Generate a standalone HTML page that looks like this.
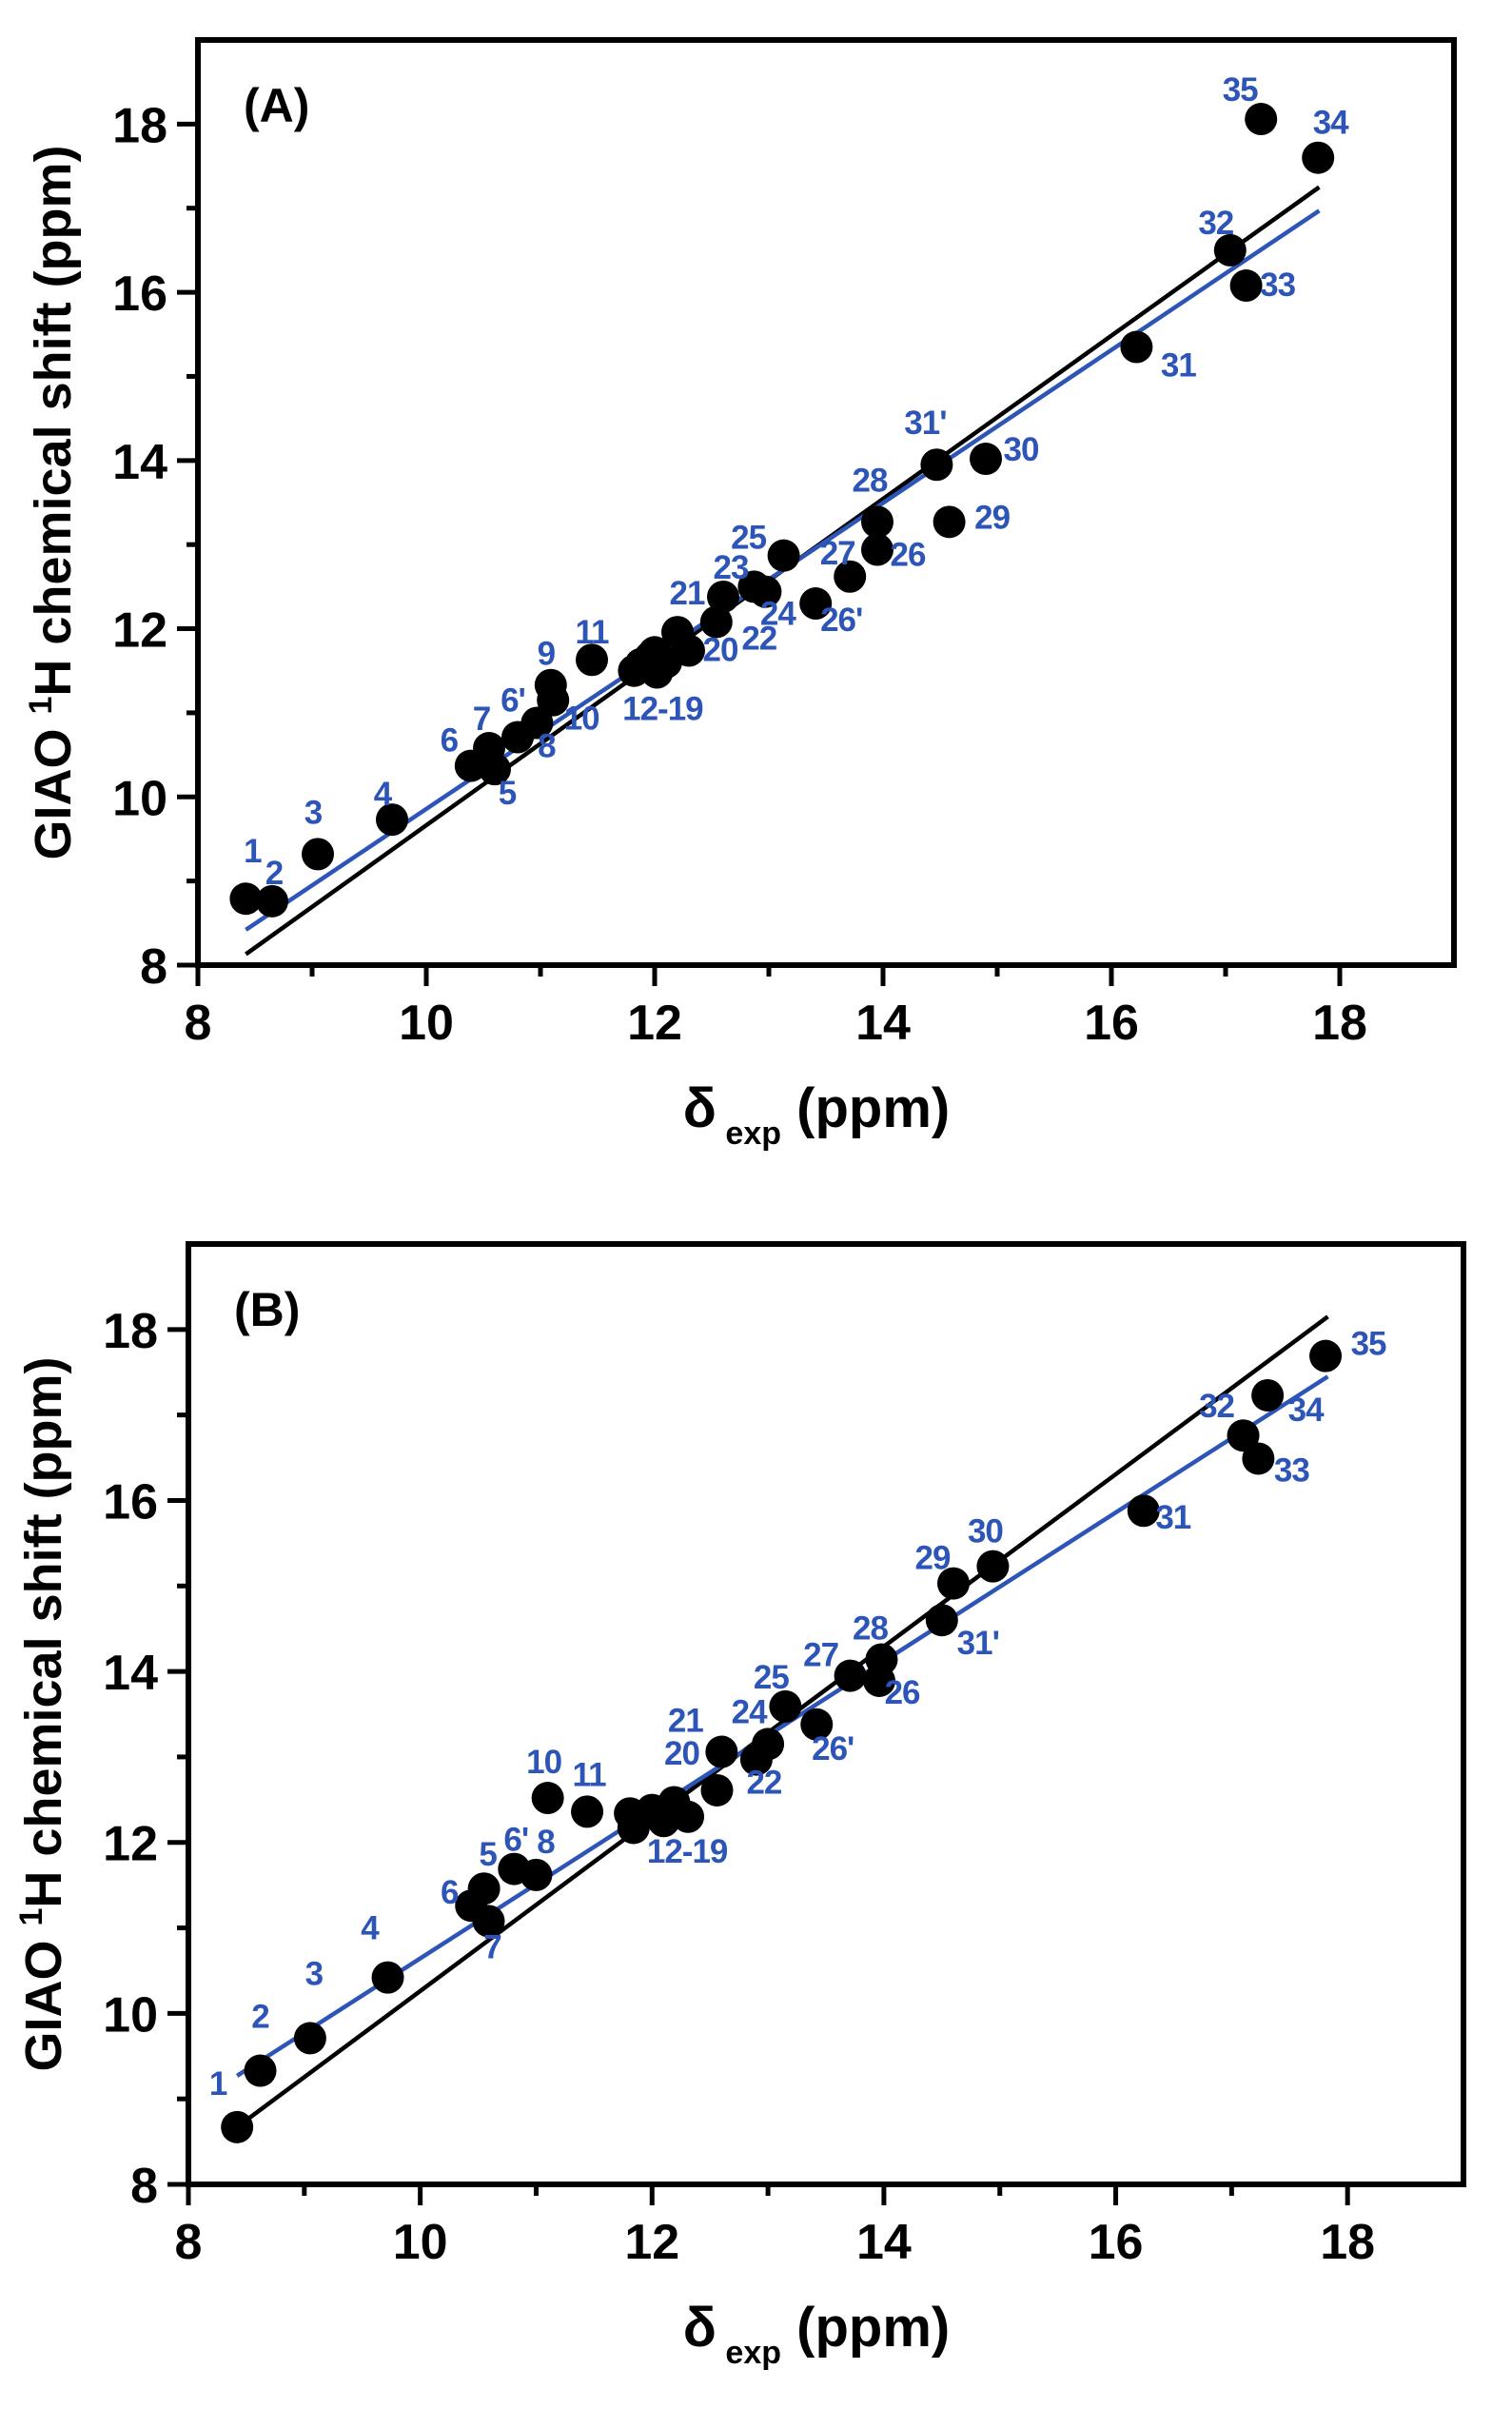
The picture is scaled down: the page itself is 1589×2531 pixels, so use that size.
<!DOCTYPE html>
<html><head><meta charset="utf-8">
<style>
html,body{margin:0;padding:0;background:#fff;}
svg{display:block;}
text{font-family:"Liberation Sans",Arial,sans-serif;font-weight:bold;}
</style></head>
<body>
<svg id="fig" width="1589" height="2531" viewBox="0 0 1589 2531" xmlns="http://www.w3.org/2000/svg"></svg>
<script>
// ---------- Panel A data ----------
const labelsA = ["1","2","3","4","5","6","7","6'","8","9","10","11","12-19","","","","","","","","20","21","22","23","24","","25","26'","27","28","26","29","30","31'","31","32","33","34","35"];
const xA = [8.42,8.65,9.05,9.70,10.60,10.39,10.55,10.80,10.97,11.09,11.11,11.45,11.82,11.88,11.96,12.02,12.10,11.90,12.00,12.06,12.30,12.20,12.54,12.60,12.97,12.87,13.13,13.41,13.71,13.95,13.95,14.58,14.90,14.47,16.22,17.04,17.18,17.81,17.31];
const yA = [8.79,8.76,9.32,9.73,10.33,10.37,10.58,10.71,10.88,11.33,11.15,11.63,11.50,11.58,11.66,11.48,11.60,11.55,11.72,11.62,11.74,11.96,12.08,12.38,12.44,12.50,12.87,12.30,12.62,13.27,12.94,13.27,14.02,13.95,15.35,16.50,16.08,17.60,18.06];
const ldxA = [7,2,-5,-10,13,-23,-8,-5,10,-5,30,0,30,0,0,0,0,0,0,0,33,10,45,8,13,0,-37,27,-13,-8,32,45,37,-12,44,-15,33,13,-22];
const ldyA = [-51,-31,-45,-28,24,-28,-32,-40,23,-34,18,-30,39,0,0,0,0,0,0,0,-2,-42,16,-32,22,0,-20,16,-26,-45,4,-6,-11,-45,18,-30,-2,-38,-32];
const blackLineA = [[8.42,8.13],[17.82,17.25]];
const blueLineA = [[8.42,8.42],[17.82,16.97]];

// ---------- Panel B data ----------
const labelsB = ["1","2","3","4","6","5","7","6'","8","10","11","12-19","","","","","","20","21","22","24","25","26'","27","28","26","31'","29","30","31","32","33","34","35"];
const xB = [8.42,8.62,9.05,9.72,10.44,10.55,10.59,10.81,11.00,11.10,11.44,11.81,11.84,12.00,12.10,12.19,12.31,12.56,12.60,12.90,13.00,13.15,13.42,13.71,13.98,13.96,14.50,14.60,14.94,16.24,17.10,17.23,17.31,17.81];
const yB = [8.67,9.33,9.71,10.42,11.26,11.46,11.08,11.69,11.62,12.52,12.36,12.34,12.17,12.38,12.25,12.47,12.30,12.61,13.06,12.97,13.15,13.59,13.38,13.95,14.14,13.89,14.60,15.03,15.23,15.88,16.76,16.49,17.23,17.69];
const ldxB = [-20,0,4,-19,-23,4,4,2,10,-4,2,60,0,0,0,0,0,-37,-38,8,-20,-15,17,-31,-12,24,38,-22,-8,31,-28,35,40,45];
const ldyB = [-47,-58,-69,-53,-15,-37,26,-32,-36,-39,-40,39,0,0,0,0,0,-40,-34,23,-35,-32,24,-23,-34,11,23,-28,-38,6,-32,11,14,-14];
const blackLineB = [[8.42,8.67],[17.83,18.15]];
const blueLineB = [[8.42,9.27],[17.83,17.45]];

const ticks = [8,10,12,14,16,18];
const minorTicks = [9,11,13,15,17];

const NS = "http://www.w3.org/2000/svg";
const svg = document.getElementById("fig");
function mk(tag, attrs, parent){
  const e = document.createElementNS(NS, tag);
  for (const k in attrs) e.setAttribute(k, attrs[k]);
  (parent||svg).appendChild(e);
  return e;
}
const BLUE = "#2d55b8";

function panel(id, box, labels, xs, ys, ldx, ldy, bl, bu, tag){
  const g = mk("g", {});
  
  
  const sx = v => box.l + (v-8)/(19-8)*(box.r-box.l);
  const sy = v => box.b - (v-8)/(19-8)*(box.b-box.t);
  const fr = mk("rect", {x:box.l, y:box.t, width:box.r-box.l, height:box.b-box.t, fill:"none", stroke:"#000","stroke-width":6}, g);
  
  
  ticks.forEach(t=>{
    const xt = mk("line",{x1:sx(t),x2:sx(t),y1:box.b,y2:box.b+22,stroke:"#000","stroke-width":5},g);
    
    
    const xl = mk("text",{x:sx(t),y:box.b+78,"text-anchor":"middle","font-size":52},g);
    xl.textContent = t;
    
    
    const yt = mk("line",{x1:box.l-22,x2:box.l,y1:sy(t),y2:sy(t),stroke:"#000","stroke-width":5},g);
    
    
    const yl = mk("text",{x:box.l-32,y:sy(t)+19,"text-anchor":"end","font-size":52},g);
    yl.textContent = t;
    
    
  });
  minorTicks.forEach(t=>{
    const a = mk("line",{x1:sx(t),x2:sx(t),y1:box.b,y2:box.b+12,stroke:"#000","stroke-width":5},g);
    
    
    const b = mk("line",{x1:box.l-12,x2:box.l,y1:sy(t),y2:sy(t),stroke:"#000","stroke-width":5},g);
    
    
  });
  const l1 = mk("line",{x1:sx(bl[0][0]),y1:sy(bl[0][1]),x2:sx(bl[1][0]),y2:sy(bl[1][1]),stroke:"#000","stroke-width":4.5},g);
  
  
  const l2 = mk("line",{x1:sx(bu[0][0]),y1:sy(bu[0][1]),x2:sx(bu[1][0]),y2:sy(bu[1][1]),stroke:BLUE,"stroke-width":4.5},g);
  
  
  xs.forEach((x,i)=>{
    const c = mk("circle",{cx:sx(x),cy:sy(ys[i]),r:17,fill:"#000"},g);
    
    
  });
  labels.forEach((s,i)=>{
    if(!s) return;
    const t = mk("text",{x:sx(xs[i])+ldx[i],y:sy(ys[i])+ldy[i]+13,"text-anchor":"middle","font-size":35,fill:BLUE,"letter-spacing":"-1"},g);
    t.textContent = s;
    
    
  });
  const pt = mk("text",{x:box.l+48,y:box.t+86,"font-size":50},g);
  pt.textContent = tag;
  
  
  const cy = (box.t+box.b)/2;
  const yt = mk("text",{x:0,y:0,"text-anchor":"middle","font-size":54,transform:`translate(${box.l-134},${cy}) rotate(-90)`},g);
  yt.innerHTML = 'GIAO <tspan dy="-20" font-size="34">1</tspan><tspan dy="20">H chemical shift (ppm)</tspan>';
  
  
  const xt = mk("text",{x:(box.l+box.r)/2-10,y:box.b+170,"text-anchor":"middle","font-size":58},g);
  xt.innerHTML = 'δ<tspan dy="18" font-size="34"> exp</tspan><tspan dy="-18"> (ppm)</tspan>';
  
  
}

panel("a",{l:208,r:1528,t:42,b:1014},labelsA,xA,yA,ldxA,ldyA,blackLineA,blueLineA,"(A)");
panel("b",{l:198,r:1538,t:1307,b:2295},labelsB,xB,yB,ldxB,ldyB,blackLineB,blueLineB,"(B)");
</script>
</body></html>
